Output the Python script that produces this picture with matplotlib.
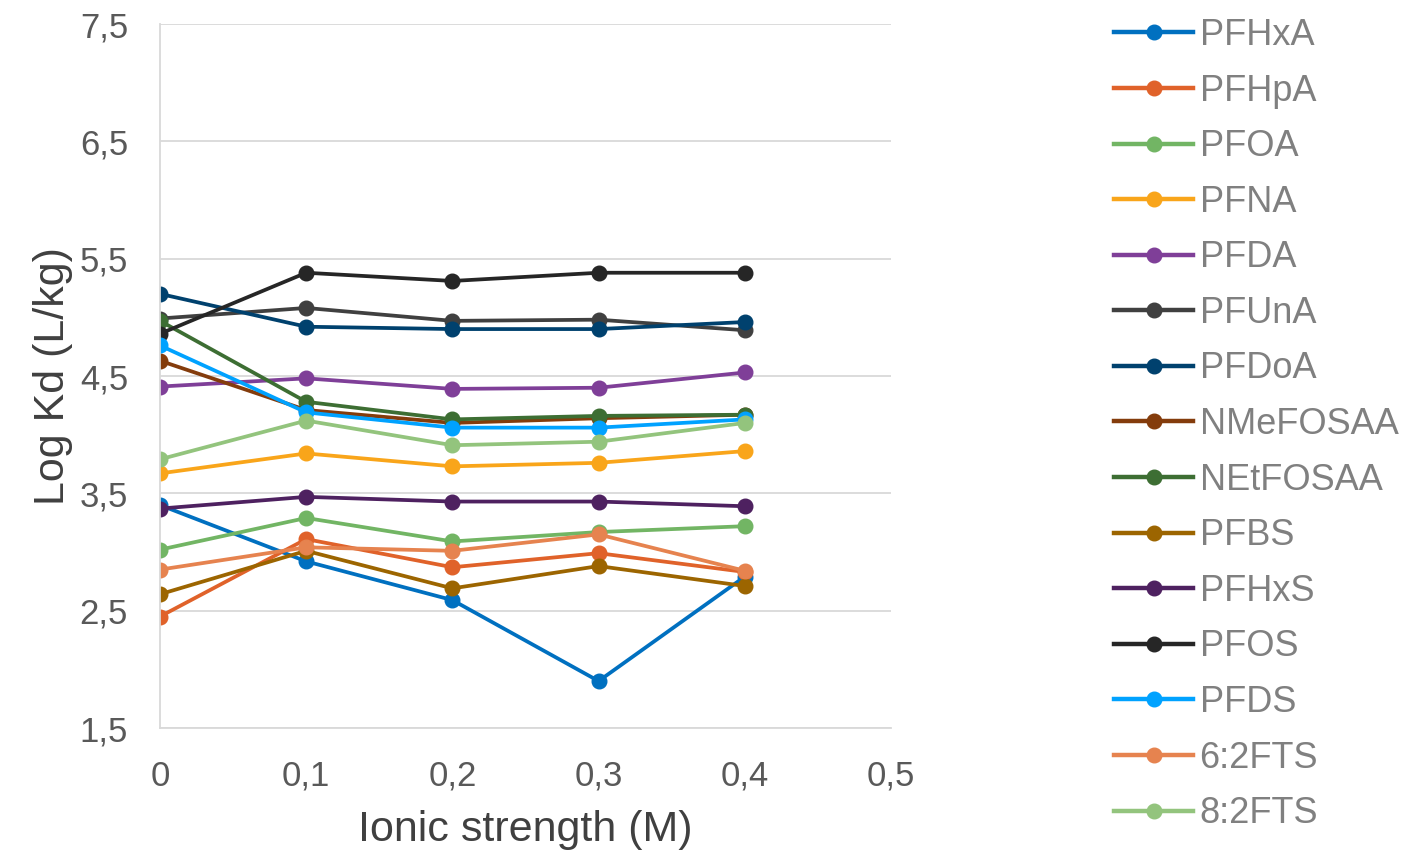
import matplotlib
matplotlib.use('Agg')
from matplotlib import pyplot as plt
from matplotlib.ticker import FuncFormatter

plt.rcParams['font.family'] = ['Liberation Sans', 'DejaVu Sans']

ionic = [0, 0.1, 0.2, 0.3, 0.4]

compounds = ['PFHxA', 'PFHpA', 'PFOA', 'PFNA', 'PFDA', 'PFUnA', 'PFDoA', 'NMeFOSAA',
             'NEtFOSAA', 'PFBS', 'PFHxS', 'PFOS', 'PFDS', '6:2FTS', '8:2FTS']

pfhxa = [3.40, 2.92, 2.59, 1.90, 2.79]
pfhpa = [2.45, 3.11, 2.87, 2.99, 2.83]
pfoa = [3.02, 3.29, 3.09, 3.17, 3.22]
pfna = [3.67, 3.84, 3.73, 3.76, 3.86]
pfda = [4.41, 4.48, 4.39, 4.40, 4.53]
pfuna = [4.99, 5.08, 4.97, 4.98, 4.89]
pfdoa = [5.20, 4.92, 4.90, 4.90, 4.96]
nmefosaa = [4.63, 4.21, 4.10, 4.14, 4.17]
netfosaa = [4.97, 4.28, 4.13, 4.16, 4.17]
pfbs = [2.64, 3.01, 2.69, 2.88, 2.71]
pfhxs = [3.37, 3.47, 3.43, 3.43, 3.39]
pfos = [4.86, 5.38, 5.31, 5.38, 5.38]
pfds = [4.76, 4.19, 4.06, 4.06, 4.13]
fts62 = [2.85, 3.04, 3.01, 3.15, 2.84]
fts82 = [3.79, 4.12, 3.91, 3.94, 4.10]

series = [pfhxa, pfhpa, pfoa, pfna, pfda, pfuna, pfdoa, nmefosaa,
          netfosaa, pfbs, pfhxs, pfos, pfds, fts62, fts82]

colors = ['#0070C0', '#E0622A', '#72B564', '#F9A51A', '#7F3F98', '#404040', '#00416E', '#843C0C',
          '#3D6E33', '#9C6500', '#4E2160', '#262626', '#00A2FF', '#E6834F', '#93C47D']

fig = plt.figure(figsize=(14.04, 8.57), dpi=100)
ax = fig.add_axes([160 / 1404, 1 - 728 / 857, (891 - 160) / 1404, (728 - 24) / 857])

for name, vals, col in zip(compounds, series, colors):
    ax.plot(ionic, vals, color=col, linewidth=2.7, marker='o', markersize=10.5,
            label=name)

ax.set_xlim(0, 0.5)
ax.set_ylim(1.5, 7.5)
ax.set_xticks([0, 0.1, 0.2, 0.3, 0.4, 0.5])
ax.set_yticks([1.5, 2.5, 3.5, 4.5, 5.5, 6.5, 7.5])
comma = FuncFormatter(lambda v, p: ('%g' % round(v, 2)).replace('.', ','))
ax.xaxis.set_major_formatter(comma)
ax.yaxis.set_major_formatter(comma)
ax.tick_params(length=0, labelsize=25, labelcolor='#595959')
ax.tick_params(axis='x', pad=23)
ax.tick_params(axis='y', pad=23)

ax.grid(axis='y', color='#D9D9D9', linewidth=1.3)
ax.set_axisbelow(True)
for s in ['top', 'right']:
    ax.spines[s].set_visible(False)
for s in ['left', 'bottom']:
    ax.spines[s].set_color('#D9D9D9')
    ax.spines[s].set_linewidth(1.3)

ax.set_xlabel('Ionic strength (M)', fontsize=31, color='#404040', labelpad=12)
ax.set_ylabel('Log Kd (L/kg)', fontsize=31, color='#404040', labelpad=5)

leg = fig.legend(loc='upper left', bbox_to_anchor=(1114 / 1404, 1 - 18 / 857),
                 frameon=False, fontsize=26, labelcolor='#808080',
                 handlelength=2.2, handletextpad=0.17, labelspacing=0.57,
                 markerscale=1.0, borderaxespad=0, borderpad=0)
for h in leg.legend_handles:
    h.set_linewidth(3.2)

plt.savefig('out.png', dpi=100)
